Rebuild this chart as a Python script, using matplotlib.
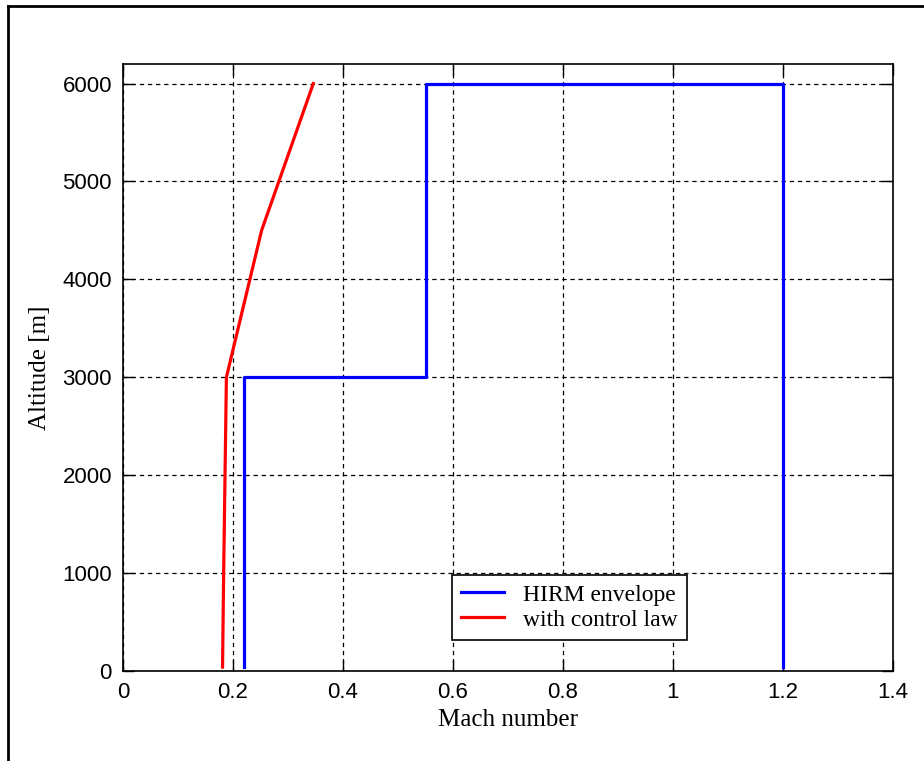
import matplotlib
matplotlib.use('Agg')
import matplotlib.pyplot as plt
from matplotlib.lines import Line2D

# HIRM flight envelope
hirm_mach = [0.22, 0.22, 0.55, 0.55, 1.2, 1.2]
hirm_alt = [40, 3000, 3000, 6000, 6000, 40]

# envelope with control law
law_mach = [0.181, 0.183, 0.188, 0.252, 0.346]
law_alt = [40, 1000, 3000, 4500, 6000]

xticks = [0, 0.2, 0.4, 0.6, 0.8, 1, 1.2, 1.4]
xtick_labels = ['0', '0.2', '0.4', '0.6', '0.8', '1', '1.2', '1.4']
yticks = [0, 1000, 2000, 3000, 4000, 5000, 6000]

serif = ['Liberation Serif', 'DejaVu Serif']
sans = ['Liberation Sans', 'DejaVu Sans']

fig = plt.figure(figsize=(9.24, 7.61), dpi=100)
ax = fig.add_axes([123/924, 90/761, 770/924, 607/761])

ax.plot(hirm_mach, hirm_alt, color='#0000ff', lw=2.3, label='HIRM envelope')
ax.plot(law_mach, law_alt, color='#ff0000', lw=2.3, label='with control law')

ax.set_xlim(0, 1.4)
ax.set_ylim(0, 6200)
ax.set_xticks(xticks)
ax.set_xticklabels(xtick_labels)
ax.set_yticks(yticks)
ax.grid(True, color='black', linestyle=(0, (3.5, 3)), lw=0.9)
ax.tick_params(direction='in', length=8, width=1, top=True, right=True,
               labelsize=16, pad=8)
for lab in ax.get_xticklabels() + ax.get_yticklabels():
    lab.set_family(sans)
for s in ax.spines.values():
    s.set_linewidth(1.2)

ax.set_xlabel('Mach number', family=serif, fontsize=18, labelpad=4)
ax.set_ylabel('Altitude [m]', family=serif, fontsize=18, labelpad=8)

leg = ax.legend(loc='lower left', bbox_to_anchor=(0.427, 0.051), borderaxespad=0,
                prop={'family': serif, 'size': 17}, fancybox=False, framealpha=1,
                edgecolor='black', handlelength=1.8, handletextpad=0.8,
                labelspacing=0.15, borderpad=0.4)
leg.get_frame().set_linewidth(1.2)

# outer frame (top and left)
fig.add_artist(Line2D([8/924, 1], [1 - 6/761, 1 - 6/761], color='black', lw=2))
fig.add_artist(Line2D([8/924, 8/924], [0, 1 - 6/761], color='black', lw=2))

fig.savefig('out.png', dpi=100)
